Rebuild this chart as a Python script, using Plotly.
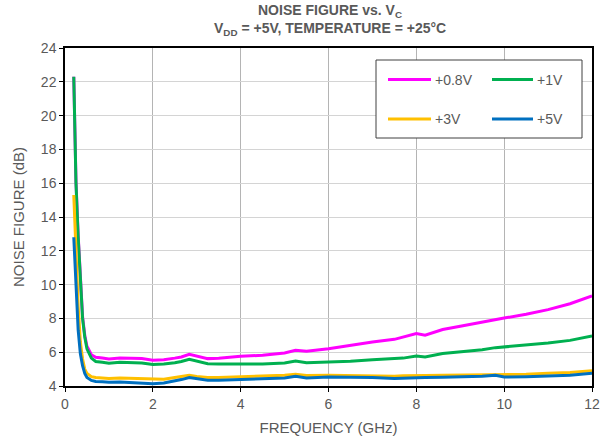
import plotly.graph_objects as go

freq = [0.2, 0.25, 0.3, 0.35, 0.4, 0.45, 0.5, 0.6, 0.7, 0.85, 1.0, 1.25, 1.5, 1.75,
        2.0, 2.25, 2.5, 2.65, 2.83, 3.0, 3.25, 3.5, 4.0, 4.5, 5.0, 5.25, 5.5, 6.0,
        6.5, 7.0, 7.5, 7.7, 8.0, 8.2, 8.6, 9.0, 9.5, 9.8, 10.0, 10.5, 11.0, 11.5, 12.0]

nf_0v8 = [22.3, 16.1, 12.9, 10.3, 8.1, 7.0, 6.35, 5.85, 5.7, 5.65, 5.6, 5.65, 5.63, 5.62,
          5.52, 5.55, 5.65, 5.72, 5.87, 5.78, 5.62, 5.64, 5.76, 5.82, 5.95, 6.11, 6.05, 6.21,
          6.41, 6.6, 6.76, 6.9, 7.1, 7.0, 7.34, 7.53, 7.79, 7.96, 8.02, 8.24, 8.52, 8.87, 9.33]

nf_1v = [22.3, 16.0, 12.8, 10.2, 8.0, 6.9, 6.2, 5.65, 5.45, 5.4, 5.35, 5.4, 5.38, 5.36,
         5.27, 5.3, 5.38, 5.45, 5.58, 5.48, 5.32, 5.3, 5.28, 5.3, 5.36, 5.48, 5.38, 5.42,
         5.47, 5.55, 5.62, 5.65, 5.78, 5.72, 5.92, 6.01, 6.15, 6.27, 6.31, 6.41, 6.54, 6.70, 6.96]

nf_3v = [15.3, 11.5, 8.7, 6.6, 5.6, 5.0, 4.75, 4.55, 4.5, 4.48, 4.45, 4.47, 4.45, 4.44,
         4.38, 4.4, 4.5, 4.55, 4.63, 4.57, 4.5, 4.5, 4.53, 4.56, 4.63, 4.69, 4.62, 4.63,
         4.6, 4.57, 4.58, 4.6, 4.63, 4.62, 4.63, 4.64, 4.67, 4.69, 4.68, 4.7, 4.75, 4.8, 4.91]

nf_5v = [12.8, 9.6, 7.3, 5.9, 5.2, 4.75, 4.5, 4.33, 4.27, 4.25, 4.22, 4.24, 4.22, 4.18,
         4.14, 4.18, 4.28, 4.38, 4.5, 4.42, 4.34, 4.34, 4.38, 4.42, 4.47, 4.57, 4.47, 4.53,
         4.52, 4.5, 4.44, 4.47, 4.5, 4.5, 4.52, 4.53, 4.58, 4.63, 4.53, 4.55, 4.57, 4.63, 4.75]

series_names = ["+0.8V", "+1V", "+3V", "+5V"]
series_values = [nf_0v8, nf_1v, nf_3v, nf_5v]
series_colors = ["#ff00ff", "#00b050", "#ffc000", "#0070c0"]

x_ticks = [0, 2, 4, 6, 8, 10, 12]
y_ticks = [4, 6, 8, 10, 12, 14, 16, 18, 20, 22, 24]

title_lines = ["<b>NOISE FIGURE vs. V<sub>C</sub></b>",
               "<b>V<sub>DD</sub> = +5V, TEMPERATURE = +25°C</b>"]

GRAY = "#595959"
FONT = "Liberation Sans, Arial, sans-serif"

W, H = 605, 442
L, R, T, B = 65, 592, 48, 386

def px(x):
    return (x - L) / (R - L)
def py(y):
    return (B - y) / (B - T)

fig = go.Figure()
for name, vals, col in zip(series_names, series_values, series_colors):
    fig.add_trace(go.Scatter(x=freq, y=vals, mode="lines", name=name,
                             line=dict(color=col, width=3), showlegend=False))

# manual 2x2 legend
shapes = [dict(type="rect", xref="paper", yref="paper",
               x0=px(376), x1=px(582), y0=py(138), y1=py(60),
               line=dict(color="#404040", width=1), fillcolor="white", layer="above")]
annotations = []
positions = [(388, 431, 79.5), (492, 533, 79.5), (388, 431, 119), (492, 533, 119)]
for (x0, x1, yy), name, col in zip(positions, series_names, series_colors):
    shapes.append(dict(type="line", xref="paper", yref="paper",
                       x0=px(x0), x1=px(x1), y0=py(yy), y1=py(yy),
                       line=dict(color=col, width=3), layer="above"))
    annotations.append(dict(xref="paper", yref="paper", x=px(x1 + 2), y=py(yy),
                            xanchor="left", yanchor="middle", text=name, showarrow=False,
                            font=dict(size=14, color=GRAY, family=FONT)))

for txt, yy in zip(title_lines, [11, 29]):
    annotations.append(dict(xref="paper", yref="paper", x=px(330), y=py(yy),
                            xanchor="center", yanchor="middle", text=txt, showarrow=False,
                            font=dict(size=14, color=GRAY, family=FONT)))

fig.update_layout(
    width=W, height=H,
    margin=dict(l=L, r=W - R, t=T, b=H - B, autoexpand=False),
    paper_bgcolor="white", plot_bgcolor="white",
    font=dict(family=FONT, color=GRAY),
    shapes=shapes, annotations=annotations,
)
fig.update_xaxes(range=[0, 12], tickvals=x_ticks, showgrid=True, gridcolor="#b4b4b4", gridwidth=1,
                 showline=True, linecolor="black", linewidth=1.5, mirror=True,
                 ticks="outside", ticklen=4, tickcolor="black", automargin=False,
                 tickfont=dict(size=14, color=GRAY), zeroline=False,
                 title=dict(text="FREQUENCY (GHz)", font=dict(size=15, color=GRAY), standoff=12))
fig.update_yaxes(range=[4, 24], tickvals=y_ticks, showgrid=True, gridcolor="#d4d4d4", gridwidth=1,
                 showline=True, linecolor="black", linewidth=1.5, mirror=True,
                 ticks="outside", ticklen=4, tickcolor="black", automargin=False,
                 tickfont=dict(size=14, color=GRAY), zeroline=False,
                 title=dict(text="NOISE FIGURE (dB)", font=dict(size=15, color=GRAY), standoff=13))

fig.write_html("out.html", config={"displayModeBar": False},
               post_script="document.body.style.margin='0';document.body.style.overflow='hidden';")
